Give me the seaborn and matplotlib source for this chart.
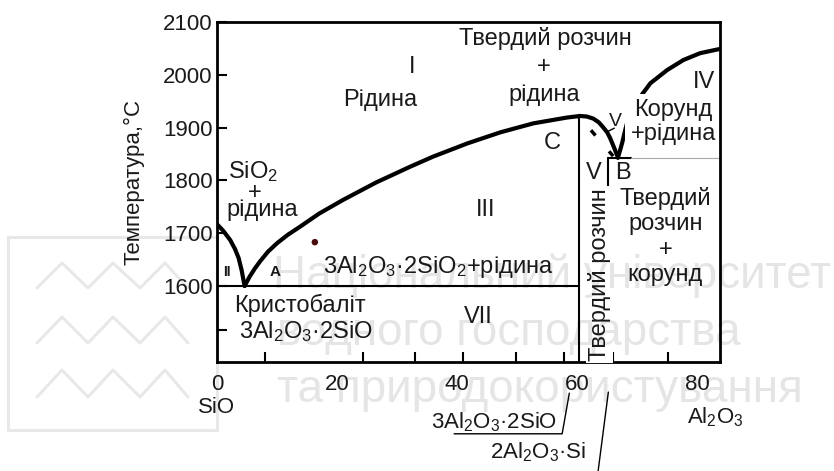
import matplotlib
matplotlib.use("Agg")
import matplotlib.pyplot as plt
import seaborn as sns
import numpy as np
import pandas as pd
from matplotlib.lines import Line2D

# ---------------- data ----------------
# left liquidus (SiO2 + liquid)
left_liq_x = [0.0, 1.0, 2.2, 3.0, 3.6, 4.1, 4.6]
left_liq_y = [1717, 1705, 1687, 1670, 1653, 1630, 1600]
# mullite liquidus A -> C
mul_liq_x = [4.6, 5.4, 6.3, 7.2, 8.5, 10.0, 11.8, 13.8, 17.0, 21.0, 26.5, 32.2, 36.0,
             41.7, 47.2, 52.7, 58.3, 60.5]
mul_liq_y = [1600, 1617, 1633, 1647, 1665, 1681, 1697, 1712, 1737, 1763, 1796, 1826, 1845,
             1870, 1891, 1908, 1919, 1922]
# solid-solution liquidus C -> B
ss_liq_x = [60.5, 61.6, 62.7, 63.6, 64.3, 65.0, 65.5, 66.3, 66.8]
ss_liq_y = [1922, 1921, 1917, 1910, 1901, 1891, 1880, 1858, 1843]
# corundum liquidus B -> right edge
cor_liq_x = [66.8, 67.5, 68.0, 68.5, 70.5, 72.2, 75.0, 77.7, 80.5, 83.8]
cor_liq_y = [1843, 1871, 1895, 1916, 1958, 1984, 2009, 2028, 2041, 2049]
# dashed solidus near C
dash_x = [62.3, 66.0]
dash_y = [1895, 1846]

eutectic_T = 1600
mullite_x = 60.3
ss_x = 65.2
B_T = 1843
x_min, x_max = 0, 83.8
y_min, y_max = 1456, 2100

x_tick_vals = [0, 20, 40, 60, 80]
x_tick_labels = ["0", "20", "40", "60", "80"]
x_minor = [8, 24.3, 33, 41, 49.8, 57.8, 66, 75.2]
y_tick_vals = [1600, 1700, 1800, 1900, 2000, 2100]
y_tick_labels = ["1600", "1700", "1800", "1900", "2000", "2100"]
y_minor = [1517]

dot_x = [16.3]
dot_y = [1683]

# ---------------- style ----------------
sns.set_style("white")
plt.rcParams["font.family"] = ["Liberation Sans", "DejaVu Sans"]
plt.rcParams["mathtext.fontset"] = "custom"
plt.rcParams["mathtext.rm"] = "Liberation Sans"
plt.rcParams["mathtext.it"] = "Liberation Sans:italic"
plt.rcParams["mathtext.bf"] = "Liberation Sans:bold"

TXT = "#1a1a1a"
fig = plt.figure(figsize=(8.34, 4.71), dpi=100)
ax = fig.add_axes([217 / 834, 109 / 471, 503 / 834, 340 / 471])
ax.set_facecolor("white")


def line(x, y, lw, color="k", **kw):
    sns.lineplot(x=x, y=y, sort=False, estimator=None, color=color, lw=lw, ax=ax, **kw)


line(left_liq_x, left_liq_y, 3.0)
line(mul_liq_x, mul_liq_y, 3.0)
line(ss_liq_x, ss_liq_y, 3.0)
line(cor_liq_x, cor_liq_y, 3.0)
line(dash_x, dash_y, 2.5, linestyle=(0, (2, 6)))
line([x_min, mullite_x], [eutectic_T, eutectic_T], 1.5)
line([mullite_x, mullite_x], [y_min, 1922], 1.5)
line([ss_x, ss_x], [y_min, B_T], 1.5)
line([ss_x, 69.0], [B_T, B_T], 1.5)
line([69.0, x_max], [B_T, B_T], 0.8, color="#aaaaaa")
line([65.0, 66.2], [1892, 1899], 1.0)
sns.scatterplot(x=dot_x, y=dot_y, color="#4a0d0d", s=22, ax=ax, zorder=5, edgecolor="none")

ax.set_xlim(x_min, x_max)
ax.set_ylim(y_min, y_max)
ax.set_xlabel("")
ax.set_ylabel("")
for s in ax.spines.values():
    s.set_linewidth(2)
    s.set_color("k")
    s.set_visible(True)

ax.set_xticks(x_tick_vals)
ax.set_xticklabels(x_tick_labels)
ax.set_xticks(x_minor, minor=True)
ax.tick_params(axis="x", which="major", length=0, pad=9, labelsize=16, labelcolor=TXT)
ax.tick_params(axis="x", which="minor", direction="in", length=7, width=1.5, color="k", bottom=True)
ax.set_yticks(y_tick_vals)
ax.set_yticklabels(y_tick_labels)
ax.set_yticks(y_minor, minor=True)
ax.tick_params(axis="y", which="both", direction="in", length=7, width=1.5, labelsize=16,
               pad=3, labelcolor=TXT, color="k", left=True)

FS = 17
T = dict(color=TXT, fontsize=FS, ha="center", va="center")
WB = dict(facecolor="white", edgecolor="none", boxstyle="square,pad=0.25")
ax.text(54.7, 2068, "Твердий розчин", **T)
ax.text(54.5, 2015, "+", **T)
ax.text(54.5, 1962, "рідина", **T)
ax.text(32.5, 2015, "I", **T)
ax.text(27.2, 1952, "Рідина", **T)
ax.text(81.2, 1986, "IV", **T)
ax.text(76.0, 1910, "Корунд\n+рідина", linespacing=1.1, bbox=WB, zorder=2.4, **T)
ax.text(66.3, 1911, "V", **{**T, "fontsize": 14})
ax.text(55.8, 1871, "C", **T)
ax.text(62.8, 1814, "V", **T)
ax.text(67.7, 1814, "B", **T)
ax.text(74.7, 1694, "Твердий\nрозчин\n+\nкорунд", linespacing=1.2, zorder=2.4,
        bbox=dict(facecolor="white", edgecolor="none", boxstyle="square,pad=0.08"), **T)
ax.text(63.7, 1622, "Твердий розчин", rotation=90, zorder=4, clip_on=False,
        bbox=dict(facecolor="white", edgecolor="none", boxstyle="square,pad=0.08"), **T)
ax.text(6.0, 1816, "SiO$_2$", **T)
ax.text(6.3, 1776, "+", **T)
ax.text(7.5, 1744, "рідина", **T)
ax.text(44.8, 1744, "III", **T)
ax.text(1.7, 1627, "II", fontweight="bold", **{**T, "fontsize": 10})
ax.text(9.7, 1627, "A", fontweight="bold", **{**T, "fontsize": 11})
ax.text(36.9, 1636, "3Al$_2$O$_3$·2SiO$_2$+рідина", **T)
ax.text(13.8, 1564, "Кристобаліт", **T)
ax.text(14.8, 1513, "3Al$_2$O$_3$·2SiO", **T)
ax.text(43.5, 1541, "VII", **T)
ax.text(0.0, 1369, "SiO", clip_on=False, **{**T, "fontsize": 16})
ax.text(83.0, 1352, "Al$_2$O$_3$", clip_on=False, **{**T, "fontsize": 16})
ax.text(46.2, 1342, "3Al$_2$O$_3$·2SiO", clip_on=False, **{**T, "fontsize": 16})
ax.text(53.5, 1286, "2Al$_2$O$_3$·Si", clip_on=False, **{**T, "fontsize": 16})
ax.plot([58.7, 57.5, 39.5], [1397, 1320, 1320], color="k", lw=1.0, clip_on=False)
ax.plot([65.2, 63.5], [1399, 1250], color="k", lw=1.0, clip_on=False)

fig.text(134 / 834, 1 - 182 / 471, "Температура,°С", rotation=90, ha="center", va="center",
         fontsize=16, color=TXT)

# ---------------- watermark ----------------
WM = dict(color="black", alpha=0.1, fontsize=33, ha="left", va="baseline", zorder=10)
fig.text(273 / 834, 1 - 288 / 471, "Національний університет", **WM)
fig.text(277 / 834, 1 - 345 / 471, "водного господарства", **WM)
fig.text(277 / 834, 1 - 402 / 471, "та природокористування", **WM)


def fline(px, py):
    fig.add_artist(Line2D([p / 834 for p in px], [1 - q / 471 for q in py],
                          color="black", alpha=0.09, lw=2.2, zorder=10))


fline([8, 217, 217, 8, 8], [237, 237, 430, 430, 237])
for lo, hi in [(288, 263), (343, 317), (397, 370)]:
    xs = [37, 62, 88, 113, 140, 165, 188]
    ys = [lo, hi, lo, hi, lo, hi, lo]
    fline(xs, ys)

fig.savefig("out.png", dpi=100)
